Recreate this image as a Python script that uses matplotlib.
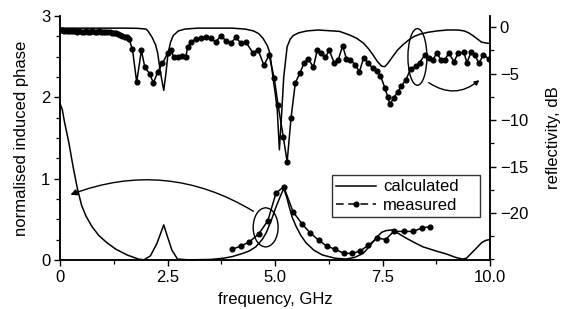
#!/usr/bin/env python3
"""
Phase and reflectivity versus frequency: calculated and measured.
"""

import matplotlib
matplotlib.use('Agg')
import matplotlib.pyplot as plt
from matplotlib.lines import Line2D
from matplotlib.patches import Ellipse, FancyArrowPatch
from matplotlib.ticker import MultipleLocator

plt.rcParams['font.family'] = ['Liberation Sans', 'DejaVu Sans']

# calculated reflectivity, dB (right axis)
calc_refl_f = [0.0, 0.5, 1.0, 1.5, 1.8, 2.0, 2.05, 2.14, 2.22, 2.27, 2.33, 2.41,
               2.46, 2.51, 2.57, 2.63, 2.75, 2.9, 3.2, 4.0, 4.3, 4.5, 4.62,
               4.72, 4.82, 4.88, 4.95, 5.0, 5.05, 5.1, 5.15, 5.2, 5.28, 5.35,
               5.42, 5.55, 5.74, 6.0, 6.5, 6.74, 6.9, 7.05, 7.17, 7.28, 7.38,
               7.48, 7.55, 7.62, 7.73, 7.84, 7.97, 8.1, 8.23, 8.37, 8.55, 8.77,
               9.0, 9.25, 9.4, 9.5, 9.6, 9.7, 9.8, 9.9, 10.0]
calc_refl_db = [-0.1, -0.1, -0.1, -0.1, -0.12, -0.2, -0.45, -1.1, -1.9, -2.8,
                -4.8, -6.8, -5.0, -2.8, -1.6, -0.9, -0.4, -0.2, -0.1, -0.1,
                -0.2, -0.4, -0.7, -1.2, -2.0, -2.8, -5.4, -7.0, -8.9, -13.2,
                -9.5, -5.4, -2.1, -1.3, -0.9, -0.6, -0.4, -0.3, -0.45, -0.85,
                -1.2, -1.7, -2.3, -3.0, -3.7, -4.2, -4.25, -3.9, -3.2, -2.5,
                -1.9, -1.4, -1.0, -0.75, -0.55, -0.4, -0.3, -0.3, -0.4, -0.6,
                -0.9, -1.25, -1.6, -1.7, -1.75]

# measured reflectivity, dB (right axis)
meas_refl_f = [0.0, 0.05, 0.1, 0.15, 0.2, 0.25, 0.3, 0.35, 0.4, 0.45, 0.5,
               0.55, 0.6, 0.65, 0.7, 0.75, 0.8, 0.85, 0.9, 0.95, 1.0, 1.05,
               1.1, 1.15, 1.2, 1.25, 1.3, 1.35, 1.4, 1.45, 1.5, 1.55, 1.6,
               1.68, 1.78, 1.89, 1.97, 2.08, 2.17, 2.27, 2.38, 2.5, 2.57,
               2.64, 2.74, 2.83, 2.92, 2.97, 3.04, 3.15, 3.27, 3.39, 3.5,
               3.62, 3.74, 3.86, 3.97, 4.09, 4.2, 4.32, 4.49, 4.6, 4.74,
               4.86, 4.98, 5.07, 5.19, 5.28, 5.37, 5.47, 5.58, 5.68, 5.77,
               5.89, 5.98, 6.07, 6.17, 6.26, 6.38, 6.47, 6.57, 6.66, 6.75,
               6.87, 6.96, 7.06, 7.17, 7.27, 7.36, 7.45, 7.55, 7.62, 7.67,
               7.76, 7.85, 7.94, 8.04, 8.15, 8.27, 8.36, 8.48, 8.57, 8.67,
               8.76, 8.86, 8.95, 9.04, 9.16, 9.26, 9.39, 9.46, 9.56, 9.65,
               9.74, 9.84, 9.98]
meas_refl_db = [-0.3, -0.35, -0.4, -0.4, -0.45, -0.45, -0.45, -0.45, -0.5,
                -0.45, -0.5, -0.5, -0.45, -0.5, -0.5, -0.45, -0.5, -0.5, -0.45,
                -0.5, -0.5, -0.55, -0.5, -0.55, -0.6, -0.6, -0.65, -0.7, -0.8,
                -0.9, -1.0, -1.1, -1.3,
                -2.3, -5.9, -2.5, -4.3, -5.0, -6.0, -4.8, -3.9, -2.8, -2.4,
                -3.2, -3.2, -3.1, -3.2, -2.1, -1.6, -1.3, -1.2, -1.1, -1.2,
                -1.6, -0.9, -1.5, -1.7, -1.1, -1.7, -1.6, -2.8, -2.4, -4.1,
                -3.0, -5.5, -8.4, -11.8, -14.5, -9.8, -6.0, -4.9, -3.8, -3.4,
                -4.3, -2.5, -2.8, -3.2, -2.5, -3.9, -3.5, -2.0, -3.4, -3.5,
                -4.1, -4.8, -3.3, -3.9, -4.4, -4.7, -5.2, -6.5, -7.5, -8.3,
                -7.6, -7.0, -6.3, -5.7, -4.5, -4.2, -3.8, -3.0, -3.3, -3.5,
                -2.8, -3.5, -3.5, -2.8, -3.7, -2.8, -2.7, -3.8, -2.7, -3.0,
                -3.9, -3.0, -3.4]

# calculated normalised induced phase (left axis)
calc_phase_f = [0.0, 0.05, 0.1, 0.2, 0.3, 0.4, 0.5, 0.6, 0.74, 0.9, 1.09, 1.3,
                1.56, 1.82, 1.95, 2.1, 2.25, 2.41, 2.5, 2.6, 2.73, 3.0, 3.5,
                3.79, 4.0, 4.25, 4.4, 4.55, 4.7, 4.79, 4.9, 5.02, 5.12, 5.2,
                5.27, 5.33, 5.4, 5.49, 5.6, 5.72, 5.9, 6.1, 6.4, 6.65, 6.85,
                7.05, 7.2, 7.35, 7.48, 7.58, 7.74, 7.85, 8.04, 8.25, 8.44,
                8.62, 8.8, 9.0, 9.2, 9.36, 9.45, 9.6, 9.8, 9.9, 10.0]
calc_phase = [1.92, 1.85, 1.7, 1.45, 1.15, 0.88, 0.67, 0.54, 0.41, 0.3, 0.21,
              0.13, 0.06, 0.01, 0.0, 0.05, 0.2, 0.43, 0.28, 0.12, 0.01, 0.0,
              0.005, 0.02, 0.04, 0.08, 0.11, 0.16, 0.25, 0.33, 0.47, 0.65,
              0.78, 0.88, 0.77, 0.65, 0.52, 0.41, 0.3, 0.21, 0.12, 0.06, 0.02,
              0.01, 0.03, 0.08, 0.17, 0.27, 0.34, 0.36, 0.37, 0.33, 0.27, 0.21,
              0.16, 0.13, 0.1, 0.07, 0.03, 0.01, 0.02, 0.1, 0.21, 0.24, 0.25]

# measured normalised induced phase (left axis)
meas_phase_f = [4.0, 4.2, 4.4, 4.62, 4.83, 5.02, 5.2, 5.42, 5.63, 5.82, 6.02,
                6.2, 6.4, 6.6, 6.8, 6.98, 7.17, 7.38, 7.57, 7.76, 7.99, 8.2,
                8.41, 8.6]
meas_phase = [0.13, 0.17, 0.22, 0.32, 0.48, 0.82, 0.9, 0.59, 0.44, 0.33, 0.24,
              0.17, 0.13, 0.08, 0.08, 0.11, 0.18, 0.27, 0.25, 0.35, 0.35, 0.35,
              0.39, 0.41]

x_ticks = [0, 2.5, 5.0, 7.5, 10.0]
x_tick_labels = ['0', '2.5', '5.0', '7.5', '10.0']
phase_ticks = [0, 1, 2, 3]
db_ticks = [0, -5, -10, -15, -20]
db_tick_labels = ['0', '\u22125', '\u221210', '\u221215', '\u221220']


def main():
    fig = plt.figure(figsize=(5.62, 3.09), dpi=100)
    ax = fig.add_axes([0.107, 0.159, 0.765, 0.789])
    ax2 = ax.twinx()

    lw = 1.1
    ax.plot(calc_phase_f, calc_phase, color='black', lw=lw, clip_on=False)
    ax.plot(meas_phase_f, meas_phase, color='black', lw=lw, marker='o', ms=3.4)
    ax2.plot(calc_refl_f, calc_refl_db, color='black', lw=lw)
    ax2.plot(meas_refl_f, meas_refl_db, color='black', lw=lw, marker='o', ms=3.4)

    ax.set_xlim(0, 10)
    ax.set_ylim(0, 3)
    ax2.set_ylim(-25.05, 1.2)

    ax.set_xticks(x_ticks)
    ax.set_xticklabels(x_tick_labels)
    ax.xaxis.set_minor_locator(MultipleLocator(1.25))
    ax.set_yticks(phase_ticks)
    ax.yaxis.set_minor_locator(MultipleLocator(0.25))
    ax2.set_yticks(db_ticks)
    ax2.set_yticklabels(db_tick_labels)
    ax2.yaxis.set_minor_locator(MultipleLocator(2.5))

    for a in (ax, ax2):
        a.spines['top'].set_visible(False)
        for s in a.spines.values():
            s.set_linewidth(1.1)
        a.tick_params(which='major', direction='out', length=4.5, width=1.0,
                      labelsize=12, pad=2.5)
        a.tick_params(which='minor', direction='out', length=3, width=0.9)

    ax.set_xlabel('frequency, GHz', fontsize=12, labelpad=5)
    ax.set_ylabel('normalised induced phase', fontsize=12, labelpad=9)
    ax2.set_ylabel('reflectivity, dB', fontsize=12, labelpad=13)

    # ellipses and arrows pointing to the relevant axis
    ax.add_patch(Ellipse((4.78, 0.40), 0.58, 0.48, fill=False, lw=1.0,
                         color='black'))
    ax.add_patch(FancyArrowPatch((4.55, 0.58), (0.18, 0.79),
                                 connectionstyle='arc3,rad=0.25',
                                 arrowstyle='-|>', mutation_scale=9,
                                 lw=1.0, color='black'))
    ax2.add_patch(Ellipse((8.31, -3.2), 0.44, 6.1, fill=False, lw=1.0,
                          color='black'))
    ax2.add_patch(FancyArrowPatch((8.52, -5.8), (9.8, -5.5),
                                  connectionstyle='arc3,rad=0.4',
                                  arrowstyle='-|>', mutation_scale=7,
                                  lw=1.0, color='black'))

    handles = [
        Line2D([0], [0], color='black', lw=lw),
        Line2D([0], [0], color='black', lw=lw, ls=(0, (5, 3)), marker='o',
               ms=3.4),
    ]
    leg = ax2.legend(handles, ['calculated', 'measured'], loc='lower left',
                     bbox_to_anchor=(0.633, 0.176, 0.344, 0.193), mode='expand',
                     fontsize=12, frameon=True, fancybox=False,
                     handlelength=2.4, handletextpad=0.4, borderaxespad=0,
                     borderpad=0.25, labelspacing=0.2)
    leg.get_frame().set_edgecolor('black')
    leg.get_frame().set_linewidth(1.0)

    fig.savefig('out.png', dpi=100)
    plt.close(fig)


if __name__ == '__main__':
    main()
